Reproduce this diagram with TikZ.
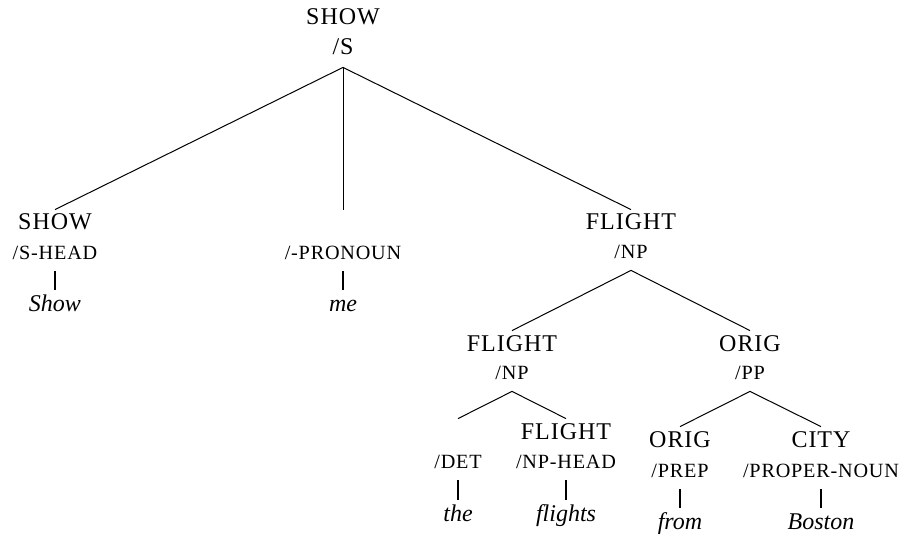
\documentclass[tikz,border=0pt]{standalone}
\usepackage{fontspec}
\setmainfont{Liberation Serif}
\newfontfamily\capsfont[LetterSpace=4]{Liberation Serif}

\begin{document}
\begin{tikzpicture}[x=0.5pt,y=-0.5pt,
  hd/.style={font=\fontsize{12}{14}\capsfont, anchor=base, inner xsep=0pt, inner ysep=2pt, text height=8pt},
  ct/.style={font=\fontsize{10.1}{12}\capsfont, anchor=base, inner xsep=0pt, inner ysep=3pt, text height=6pt, text depth=3pt},
  wd/.style={font=\fontsize{12}{14}\selectfont\itshape, anchor=base, inner xsep=0pt, inner ysep=2.5pt, text height=8pt},
  br/.style={line width=0.5pt},
  tk/.style={line width=0.9pt}]
  \useasboundingbox (0,0) rectangle (899,534);
  % heads and categories
  \node[hd] (top)     at (343,25)  {SHOW};
  \node[ct] (top-c)   at (343,55)  {\fontsize{12}{14}\capsfont /S};
  \node[hd] (shw)     at (55,230)  {SHOW};
  \node[ct] (shw-c)   at (55,259)  {/S-HEAD};
  \node[hd] (pro)     at (343,230) {};
  \node[ct] (pro-c)   at (343,259) {/-PRONOUN};
  \node[hd] (flt)     at (631,230) {FLIGHT};
  \node[ct] (flt-c)   at (631,258) {/NP};
  \node[hd] (flt2)    at (512,351) {FLIGHT};
  \node[ct] (flt2-c)  at (512,379) {/NP};
  \node[hd] (det)     at (458,439) {};
  \node[ct] (det-c)   at (458,468) {/DET};
  \node[hd] (flt3)    at (566,439) {FLIGHT};
  \node[ct] (flt3-c)  at (566,468) {/NP-HEAD};
  \node[hd] (orig)    at (750,351) {ORIG};
  \node[ct] (orig-c)  at (750,379) {/PP};
  \node[hd] (prep)    at (680,447) {ORIG};
  \node[ct] (prep-c)  at (680,477) {/PREP};
  \node[hd] (city)    at (821,447) {CITY};
  \node[ct] (city-c)  at (821,477) {/PROPER-NOUN};
  % words
  \node[wd] (w-show)    at (55,311)  {Show};
  \node[wd] (w-me)      at (343,311) {me};
  \node[wd] (w-the)     at (458,521) {the};
  \node[wd] (w-flights) at (566,521) {flights};
  \node[wd] (w-from)    at (680,529) {from};
  \node[wd] (w-boston)  at (821,529) {Boston};
  % branches
  \draw[br] (top-c.south) -- (shw.north);
  \draw[br] (top-c.south) -- (pro.north);
  \draw[br] (top-c.south) -- (flt.north);
  \draw[br] (flt-c.south) -- (flt2.north);
  \draw[br] (flt-c.south) -- (orig.north);
  \draw[br] (flt2-c.south) -- (det.north);
  \draw[br] (flt2-c.south) -- (flt3.north);
  \draw[br] (orig-c.south) -- (prep.north);
  \draw[br] (orig-c.south) -- (city.north);
  % lexical ticks
  \draw[tk] (shw-c.south) -- (w-show.north);
  \draw[tk] (pro-c.south) -- (w-me.north);
  \draw[tk] (det-c.south) -- (w-the.north);
  \draw[tk] (flt3-c.south) -- (w-flights.north);
  \draw[tk] (prep-c.south) -- (w-from.north);
  \draw[tk] (city-c.south) -- (w-boston.north);
\end{tikzpicture}
\end{document}
